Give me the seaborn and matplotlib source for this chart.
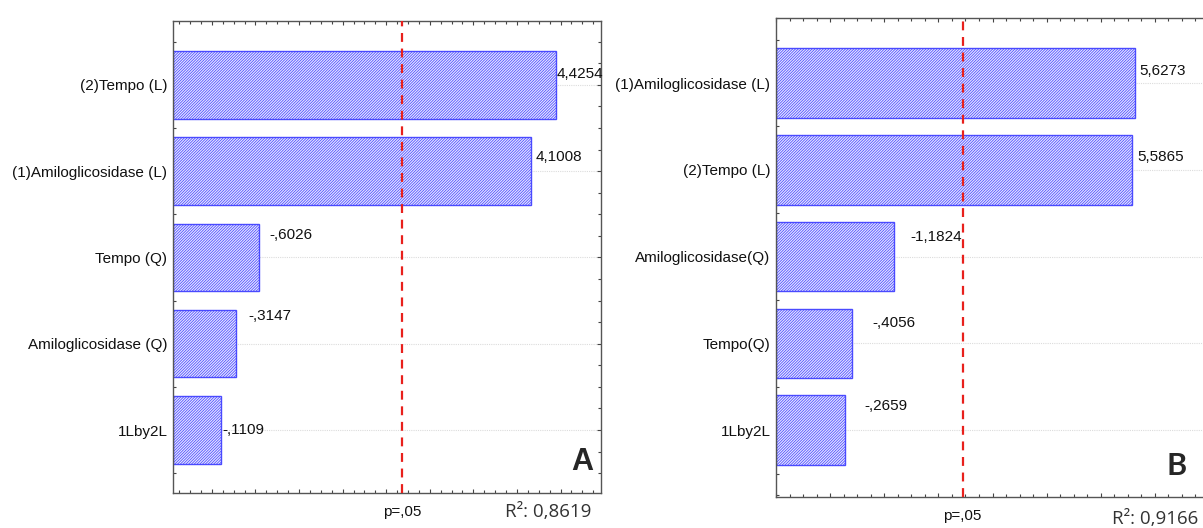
import numpy as np
import pandas as pd
import seaborn as sns
import matplotlib as mpl
import matplotlib.pyplot as plt
from matplotlib.ticker import MultipleLocator, NullFormatter

# Pareto chart data (standardized effects, signed)
terms_a = ["(2)Tempo (L)", "(1)Amiloglicosidase (L)", "Tempo (Q)",
           "Amiloglicosidase (Q)", "1Lby2L"]
effects_a = [4.4254, 4.1008, -0.6026, -0.3147, -0.1109]
r2_a = 0.8619

terms_b = ["(1)Amiloglicosidase (L)", "(2)Tempo (L)", "Amiloglicosidase(Q)",
           "Tempo(Q)", "1Lby2L"]
effects_b = [5.6273, 5.5865, -1.1824, -0.4056, -0.2659]
r2_b = 0.9166

t_crit = 2.447  # p=,05

sns.set_theme(style="white")
mpl.rcParams["hatch.linewidth"] = 0.55
LABEL_FONT = ["Liberation Sans", "DejaVu Sans"]
FS = 11


def fmt(v):
    # Statistica style: comma decimal, no leading zero
    s = f"{abs(v):.4f}".replace(".", ",")
    if s.startswith("0"):
        s = s[1:]
    return ("-" if v < 0 else "") + s


def pareto(ax, terms, effects, xlim, ylim, bar_w, minor_x, offsets, letter, letter_font):
    df = pd.DataFrame({"term": terms, "effect": np.abs(effects)})
    sns.barplot(data=df, x="effect", y="term", orient="h", ax=ax, width=bar_w,
                color="#e6e6ff", edgecolor="#4a4aff", linewidth=1.0,
                hatch="/" * 12, saturation=1)
    # Statistica draws the bars from the left edge of the axis
    for p in ax.patches:
        w = p.get_x() + p.get_width()
        p.set_x(xlim[0])
        p.set_width(w - xlim[0])

    ax.set_xlim(*xlim)
    ax.set_ylim(*ylim)
    ax.axvline(t_crit, color="#e8201c", ls=(0, (4, 3)), lw=1.6, zorder=5)

    ax.set_axisbelow(True)
    ax.yaxis.grid(True, color="#dcdcdc", ls=(0, (1, 1)), lw=0.8)
    ax.xaxis.grid(False)

    ax.set_xlabel("")
    ax.set_ylabel("")
    ax.xaxis.set_major_formatter(NullFormatter())
    ax.xaxis.set_minor_locator(MultipleLocator(minor_x))
    ax.xaxis.set_major_locator(MultipleLocator(minor_x * 4))
    ax.yaxis.set_minor_locator(MultipleLocator(0.25))
    ax.tick_params(axis="both", which="both", direction="in", top=True,
                   right=True, bottom=True, left=True, color="#444444")
    ax.tick_params(which="major", length=3, width=0.8)
    ax.tick_params(which="minor", length=2, width=0.8)
    ax.tick_params(axis="y", which="major", pad=4)
    for lab in ax.get_yticklabels():
        lab.set_family(LABEL_FONT)
        lab.set_fontsize(FS)
        lab.set_color("#111111")
    for s in ax.spines.values():
        s.set_color("#555555")
        s.set_linewidth(1.0)

    for i, (v, (dx, dy)) in enumerate(zip(effects, offsets)):
        ax.annotate(fmt(v), xy=(abs(v), i), xytext=(dx, dy), textcoords="offset pixels",
                    ha="left", va="center", fontsize=FS, family=LABEL_FONT,
                    color="#111111")

    ax.annotate("p=,05", xy=(t_crit, 0), xycoords=("data", "axes fraction"),
                xytext=(0, -19), textcoords="offset pixels", ha="center", va="center",
                fontsize=FS, family=LABEL_FONT, color="#111111")
    ax.text(letter[1], 0.065, letter[0], transform=ax.transAxes, ha="center",
            va="center", fontsize=22, fontweight="bold", family=letter_font)
    return ax


fig = plt.figure(figsize=(12.03, 5.28), dpi=100)
ax_a = fig.add_axes([173 / 1203, 35 / 528, 428 / 1203, 472 / 528])
ax_b = fig.add_axes([776 / 1203, 31 / 528, 433 / 1203, 479 / 528])

pareto(ax_a, terms_a, effects_a, (-0.5, 5.0), (4.73, -0.74), 0.78, 0.14,
       [(0, 11), (5, 14), (11, 22), (12, 28), (2, 0)], ("A", 0.955), "Liberation Sans")
pareto(ax_b, terms_b, effects_b, (-1.0, 7.0), (4.77, -0.75), 0.80, 0.25,
       [(5, 12), (5, 13), (16, 20), (20, 20), (20, 24)], ("B", 0.925), "Lato")

fig.text(505 / 1203, 1 - 512 / 528, "R\u00b2: " + f"{r2_a:.4f}".replace(".", ","),
         ha="left", va="center", fontsize=13.5, family="Open Sans", color="#333333")
fig.text(1112 / 1203, 1 - 519 / 528, "R\u00b2: " + f"{r2_b:.4f}".replace(".", ","),
         ha="left", va="center", fontsize=13.5, family="Open Sans", color="#333333")

fig.savefig("out.png", dpi=100)
